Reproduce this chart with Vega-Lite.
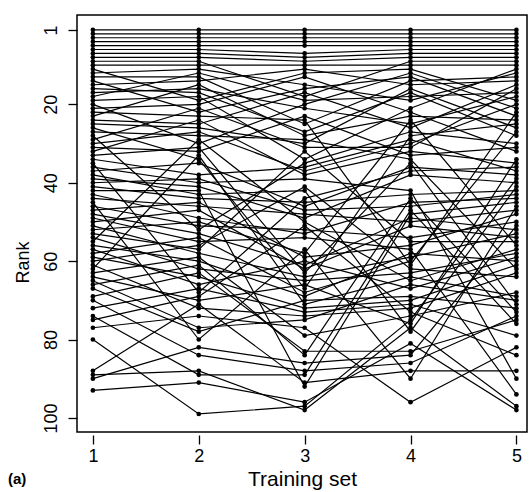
{
"$schema":"https://vega.github.io/schema/vega-lite/v6.json",
"width":450,"height":417,
"autosize":{"type":"none"},
"padding":{"left":77,"top":15,"right":5,"bottom":60},
"background":"white",
"title":{"text":"(a)","orient":"bottom","anchor":"start","frame":"bounds","offset":-17,"fontSize":15,"fontWeight":"bold","font":"Liberation Sans","color":"black","dx":-6},
"config":{"view":{"stroke":"black","strokeWidth":1.5},"axis":{"grid":false,"domain":false,"tickColor":"black","tickWidth":1.3,"labelColor":"black","titleColor":"black","labelFont":"Liberation Sans","titleFont":"Liberation Sans","titleFontWeight":"normal"}},
"data":{"values":[
{"g":1,"s":1,"r":1},{"g":1,"s":2,"r":1},{"g":1,"s":3,"r":1},{"g":1,"s":4,"r":1},{"g":1,"s":5,"r":1},
{"g":2,"s":1,"r":2},{"g":2,"s":2,"r":2},{"g":2,"s":3,"r":2},{"g":2,"s":4,"r":2},{"g":2,"s":5,"r":2},
{"g":3,"s":1,"r":3},{"g":3,"s":2,"r":3},{"g":3,"s":3,"r":3},{"g":3,"s":4,"r":3},{"g":3,"s":5,"r":3},
{"g":4,"s":1,"r":4},{"g":4,"s":2,"r":4},{"g":4,"s":3,"r":4},{"g":4,"s":4,"r":4},{"g":4,"s":5,"r":4},
{"g":5,"s":1,"r":5},{"g":5,"s":2,"r":5},{"g":5,"s":3,"r":5},{"g":5,"s":4,"r":5},{"g":5,"s":5,"r":5},
{"g":6,"s":1,"r":6},{"g":6,"s":2,"r":6},{"g":6,"s":3,"r":7},{"g":6,"s":4,"r":6},{"g":6,"s":5,"r":6},
{"g":7,"s":1,"r":7},{"g":7,"s":2,"r":7},{"g":7,"s":3,"r":8},{"g":7,"s":4,"r":7},{"g":7,"s":5,"r":7},
{"g":8,"s":1,"r":8},{"g":8,"s":2,"r":8},{"g":8,"s":3,"r":9},{"g":8,"s":4,"r":8},{"g":8,"s":5,"r":8},
{"g":9,"s":1,"r":9},{"g":9,"s":2,"r":9},{"g":9,"s":3,"r":18},{"g":9,"s":4,"r":9},{"g":9,"s":5,"r":9},
{"g":10,"s":1,"r":10},{"g":10,"s":2,"r":10},{"g":10,"s":3,"r":10},{"g":10,"s":4,"r":10},{"g":10,"s":5,"r":10},
{"g":11,"s":1,"r":11},{"g":11,"s":2,"r":19},{"g":11,"s":3,"r":12},{"g":11,"s":4,"r":11},{"g":11,"s":5,"r":19},
{"g":12,"s":1,"r":12},{"g":12,"s":2,"r":11},{"g":12,"s":3,"r":15},{"g":12,"s":4,"r":19},{"g":12,"s":5,"r":12},
{"g":13,"s":1,"r":13},{"g":13,"s":2,"r":13},{"g":13,"s":3,"r":25},{"g":13,"s":4,"r":14},{"g":13,"s":5,"r":13},
{"g":14,"s":1,"r":14},{"g":14,"s":2,"r":22},{"g":14,"s":3,"r":16},{"g":14,"s":4,"r":13},{"g":14,"s":5,"r":23},
{"g":15,"s":1,"r":15},{"g":15,"s":2,"r":14},{"g":15,"s":3,"r":11},{"g":15,"s":4,"r":15},{"g":15,"s":5,"r":14},
{"g":16,"s":1,"r":16},{"g":16,"s":2,"r":17},{"g":16,"s":3,"r":27},{"g":16,"s":4,"r":17},{"g":16,"s":5,"r":28},
{"g":17,"s":1,"r":17},{"g":17,"s":2,"r":16},{"g":17,"s":3,"r":21},{"g":17,"s":4,"r":25},{"g":17,"s":5,"r":18},
{"g":18,"s":1,"r":18},{"g":18,"s":2,"r":12},{"g":18,"s":3,"r":19},{"g":18,"s":4,"r":18},{"g":18,"s":5,"r":17},
{"g":19,"s":1,"r":19},{"g":19,"s":2,"r":18},{"g":19,"s":3,"r":34},{"g":19,"s":4,"r":21},{"g":19,"s":5,"r":11},
{"g":20,"s":1,"r":20},{"g":20,"s":2,"r":30},{"g":20,"s":3,"r":20},{"g":20,"s":4,"r":12},{"g":20,"s":5,"r":21},
{"g":21,"s":1,"r":21},{"g":21,"s":2,"r":20},{"g":21,"s":3,"r":13},{"g":21,"s":4,"r":22},{"g":21,"s":5,"r":32},
{"g":22,"s":1,"r":22},{"g":22,"s":2,"r":23},{"g":22,"s":3,"r":24},{"g":22,"s":4,"r":61},{"g":22,"s":5,"r":22},
{"g":23,"s":1,"r":23},{"g":23,"s":2,"r":15},{"g":23,"s":3,"r":28},{"g":23,"s":4,"r":23},{"g":23,"s":5,"r":24},
{"g":24,"s":1,"r":24},{"g":24,"s":2,"r":25},{"g":24,"s":3,"r":17},{"g":24,"s":4,"r":26},{"g":24,"s":5,"r":15},
{"g":25,"s":1,"r":25},{"g":25,"s":2,"r":26},{"g":25,"s":3,"r":30},{"g":25,"s":4,"r":16},{"g":25,"s":5,"r":26},
{"g":26,"s":1,"r":26},{"g":26,"s":2,"r":34},{"g":26,"s":3,"r":67},{"g":26,"s":4,"r":28},{"g":26,"s":5,"r":25},
{"g":27,"s":1,"r":27},{"g":27,"s":2,"r":28},{"g":27,"s":3,"r":29},{"g":27,"s":4,"r":34},{"g":27,"s":5,"r":62},
{"g":28,"s":1,"r":28},{"g":28,"s":2,"r":52},{"g":28,"s":3,"r":35},{"g":28,"s":4,"r":27},{"g":28,"s":5,"r":30},
{"g":29,"s":1,"r":29},{"g":29,"s":2,"r":21},{"g":29,"s":3,"r":31},{"g":29,"s":4,"r":31},{"g":29,"s":5,"r":16},
{"g":30,"s":1,"r":30},{"g":30,"s":2,"r":27},{"g":30,"s":3,"r":37},{"g":30,"s":4,"r":30},{"g":30,"s":5,"r":20},
{"g":31,"s":1,"r":31},{"g":31,"s":2,"r":32},{"g":31,"s":3,"r":23},{"g":31,"s":4,"r":33},{"g":31,"s":5,"r":31},
{"g":32,"s":1,"r":32},{"g":32,"s":2,"r":24},{"g":32,"s":3,"r":38},{"g":32,"s":4,"r":32},{"g":32,"s":5,"r":35},
{"g":33,"s":1,"r":33},{"g":33,"s":2,"r":31},{"g":33,"s":3,"r":63},{"g":33,"s":4,"r":35},{"g":33,"s":5,"r":71},
{"g":34,"s":1,"r":34},{"g":34,"s":2,"r":38},{"g":34,"s":3,"r":36},{"g":34,"s":4,"r":29},{"g":34,"s":5,"r":37},
{"g":35,"s":1,"r":35},{"g":35,"s":2,"r":68},{"g":35,"s":3,"r":44},{"g":35,"s":4,"r":37},{"g":35,"s":5,"r":36},
{"g":36,"s":1,"r":36},{"g":36,"s":2,"r":40},{"g":36,"s":3,"r":39},{"g":36,"s":4,"r":42},{"g":36,"s":5,"r":90},
{"g":37,"s":1,"r":37},{"g":37,"s":2,"r":35},{"g":37,"s":3,"r":46},{"g":37,"s":4,"r":36},{"g":37,"s":5,"r":38},
{"g":38,"s":1,"r":38},{"g":38,"s":2,"r":43},{"g":38,"s":3,"r":42},{"g":38,"s":4,"r":78},{"g":38,"s":5,"r":41},
{"g":39,"s":1,"r":39},{"g":39,"s":2,"r":41},{"g":39,"s":3,"r":49},{"g":39,"s":4,"r":38},{"g":39,"s":5,"r":40},
{"g":40,"s":1,"r":40},{"g":40,"s":2,"r":39},{"g":40,"s":3,"r":47},{"g":40,"s":4,"r":46},{"g":40,"s":5,"r":43},
{"g":41,"s":1,"r":41},{"g":41,"s":2,"r":44},{"g":41,"s":3,"r":45},{"g":41,"s":4,"r":43},{"g":41,"s":5,"r":42},
{"g":42,"s":1,"r":42},{"g":42,"s":2,"r":42},{"g":42,"s":3,"r":92},{"g":42,"s":4,"r":48},{"g":42,"s":5,"r":45},
{"g":43,"s":1,"r":43},{"g":43,"s":2,"r":49},{"g":43,"s":3,"r":53},{"g":43,"s":4,"r":45},{"g":43,"s":5,"r":44},
{"g":44,"s":1,"r":44},{"g":44,"s":2,"r":46},{"g":44,"s":3,"r":48},{"g":44,"s":4,"r":50},{"g":44,"s":5,"r":47},
{"g":45,"s":1,"r":45},{"g":45,"s":2,"r":80},{"g":45,"s":3,"r":57},{"g":45,"s":4,"r":90},{"g":45,"s":5,"r":46},
{"g":46,"s":1,"r":46},{"g":46,"s":2,"r":51},{"g":46,"s":3,"r":52},{"g":46,"s":4,"r":54},{"g":46,"s":5,"r":50},
{"g":47,"s":1,"r":47},{"g":47,"s":2,"r":45},{"g":47,"s":3,"r":59},{"g":47,"s":4,"r":56},{"g":47,"s":5,"r":48},
{"g":48,"s":1,"r":48},{"g":48,"s":2,"r":53},{"g":48,"s":3,"r":61},{"g":48,"s":4,"r":49},{"g":48,"s":5,"r":52},
{"g":49,"s":1,"r":49},{"g":49,"s":2,"r":55},{"g":49,"s":3,"r":54},{"g":49,"s":4,"r":57},{"g":49,"s":5,"r":94},
{"g":50,"s":1,"r":50},{"g":50,"s":2,"r":47},{"g":50,"s":3,"r":62},{"g":50,"s":4,"r":51},{"g":50,"s":5,"r":54},
{"g":51,"s":1,"r":51},{"g":51,"s":2,"r":58},{"g":51,"s":3,"r":64},{"g":51,"s":4,"r":59},{"g":51,"s":5,"r":53},
{"g":52,"s":1,"r":52},{"g":52,"s":2,"r":50},{"g":52,"s":3,"r":58},{"g":52,"s":4,"r":24},{"g":52,"s":5,"r":56},
{"g":53,"s":1,"r":53},{"g":53,"s":2,"r":57},{"g":53,"s":3,"r":32},{"g":53,"s":4,"r":55},{"g":53,"s":5,"r":55},
{"g":54,"s":1,"r":54},{"g":54,"s":2,"r":62},{"g":54,"s":3,"r":65},{"g":54,"s":4,"r":63},{"g":54,"s":5,"r":58},
{"g":55,"s":1,"r":55},{"g":55,"s":2,"r":29},{"g":55,"s":3,"r":50},{"g":55,"s":4,"r":65},{"g":55,"s":5,"r":57},
{"g":56,"s":1,"r":56},{"g":56,"s":2,"r":60},{"g":56,"s":3,"r":69},{"g":56,"s":4,"r":58},{"g":56,"s":5,"r":60},
{"g":57,"s":1,"r":57},{"g":57,"s":2,"r":66},{"g":57,"s":3,"r":60},{"g":57,"s":4,"r":67},{"g":57,"s":5,"r":59},
{"g":58,"s":1,"r":58},{"g":58,"s":2,"r":54},{"g":58,"s":3,"r":68},{"g":58,"s":4,"r":60},{"g":58,"s":5,"r":27},
{"g":59,"s":1,"r":59},{"g":59,"s":2,"r":64},{"g":59,"s":3,"r":72},{"g":59,"s":4,"r":70},{"g":59,"s":5,"r":61},
{"g":60,"s":1,"r":60},{"g":60,"s":2,"r":56},{"g":60,"s":3,"r":41},{"g":60,"s":4,"r":62},{"g":60,"s":5,"r":64},
{"g":61,"s":1,"r":61},{"g":61,"s":2,"r":72},{"g":61,"s":3,"r":74},{"g":61,"s":4,"r":72},{"g":61,"s":5,"r":63},
{"g":62,"s":1,"r":62},{"g":62,"s":2,"r":33},{"g":62,"s":3,"r":71},{"g":62,"s":4,"r":64},{"g":62,"s":5,"r":69},
{"g":63,"s":1,"r":63},{"g":63,"s":2,"r":59},{"g":63,"s":3,"r":79},{"g":63,"s":4,"r":74},{"g":63,"s":5,"r":68},
{"g":64,"s":1,"r":64},{"g":64,"s":2,"r":70},{"g":64,"s":3,"r":66},{"g":64,"s":4,"r":76},{"g":64,"s":5,"r":34},
{"g":65,"s":1,"r":65},{"g":65,"s":2,"r":77},{"g":65,"s":3,"r":75},{"g":65,"s":4,"r":66},{"g":65,"s":5,"r":70},
{"g":66,"s":1,"r":66},{"g":66,"s":2,"r":61},{"g":66,"s":3,"r":84},{"g":66,"s":4,"r":44},{"g":66,"s":5,"r":73},
{"g":67,"s":1,"r":67},{"g":67,"s":2,"r":78},{"g":67,"s":3,"r":70},{"g":67,"s":4,"r":69},{"g":67,"s":5,"r":72},
{"g":68,"s":1,"r":69},{"g":68,"s":2,"r":63},{"g":68,"s":3,"r":83},{"g":68,"s":4,"r":83},{"g":68,"s":5,"r":75},
{"g":69,"s":1,"r":70},{"g":69,"s":2,"r":84},{"g":69,"s":3,"r":88},{"g":69,"s":4,"r":86},{"g":69,"s":5,"r":74},
{"g":70,"s":1,"r":72},{"g":70,"s":2,"r":67},{"g":70,"s":3,"r":73},{"g":70,"s":4,"r":71},{"g":70,"s":5,"r":79},
{"g":71,"s":1,"r":74},{"g":71,"s":2,"r":89},{"g":71,"s":3,"r":89},{"g":71,"s":4,"r":47},{"g":71,"s":5,"r":76},
{"g":72,"s":1,"r":75},{"g":72,"s":2,"r":69},{"g":72,"s":3,"r":51},{"g":72,"s":4,"r":73},{"g":72,"s":5,"r":84},
{"g":73,"s":1,"r":77},{"g":73,"s":2,"r":74},{"g":73,"s":3,"r":77},{"g":73,"s":4,"r":96},{"g":73,"s":5,"r":82},
{"g":74,"s":1,"r":80},{"g":74,"s":2,"r":99},{"g":74,"s":3,"r":97},{"g":74,"s":4,"r":75},{"g":74,"s":5,"r":39},
{"g":75,"s":1,"r":88},{"g":75,"s":2,"r":71},{"g":75,"s":3,"r":91},{"g":75,"s":4,"r":88},{"g":75,"s":5,"r":88},
{"g":76,"s":1,"r":89},{"g":76,"s":2,"r":88},{"g":76,"s":3,"r":98},{"g":76,"s":4,"r":77},{"g":76,"s":5,"r":97},
{"g":77,"s":1,"r":90},{"g":77,"s":2,"r":82},{"g":77,"s":3,"r":86},{"g":77,"s":4,"r":84},{"g":77,"s":5,"r":51},
{"g":78,"s":1,"r":93},{"g":78,"s":2,"r":91},{"g":78,"s":3,"r":96},{"g":78,"s":4,"r":81},{"g":78,"s":5,"r":98}
]},
"encoding":{
"x":{"field":"s","type":"quantitative","scale":{"domain":[0.85,5.1],"nice":false,"zero":false},
"axis":{"values":[1,2,3,4,5],"format":"d","title":"Training set","tickSize":9,"offset":3,"labelFontSize":18,"titleFontSize":21,"labelPadding":3,"titlePadding":3}},
"y":{"field":"r","type":"quantitative","scale":{"domain":[-2.8,103.6],"nice":false,"zero":false,"reverse":true},
"axis":{"values":[1,20,40,60,80,100],"format":"d","title":"Rank","tickSize":9,"labelAngle":-90,"labelAlign":"center","labelBaseline":"bottom","labelFontSize":18,"titleFontSize":18,"labelPadding":8,"titleY":247,"titleX":-45}},
"detail":{"field":"g","type":"nominal"}
},
"layer":[
{"mark":{"type":"line","color":"black","strokeWidth":1.2}},
{"mark":{"type":"point","filled":true,"color":"black","size":22,"opacity":1}}
]
}
